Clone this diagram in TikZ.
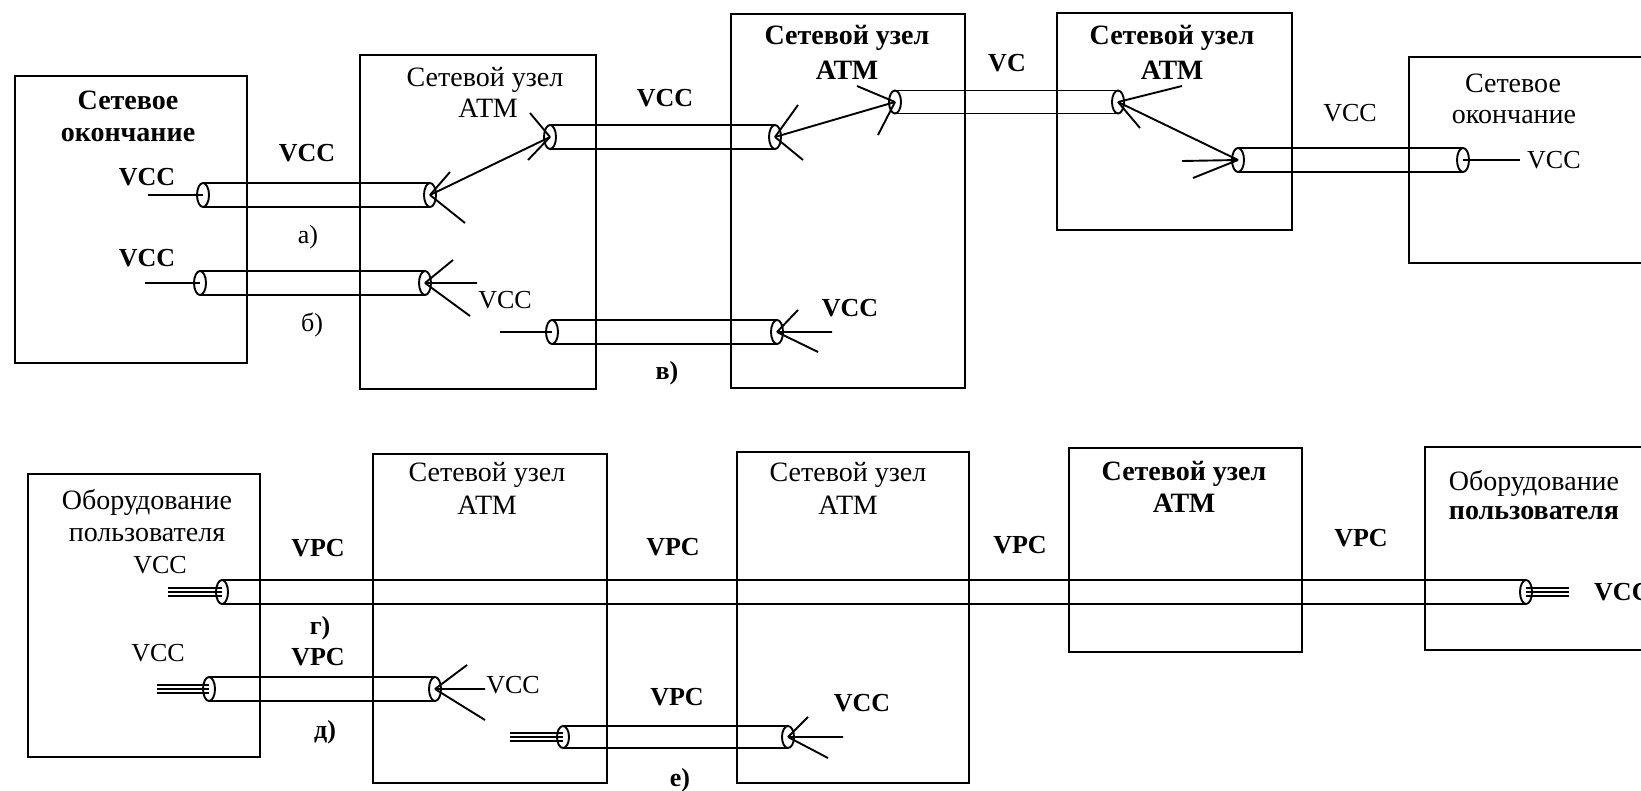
\documentclass[tikz,border=0pt]{standalone}
\usepackage{fontspec}
\setmainfont{Liberation Serif}
\tikzset{
 box/.style={draw, line width=2.1pt, inner sep=0pt, outer sep=0pt},
 wire/.style={line width=1.9pt},
 fine/.style={line width=1.3pt},
 lb/.style={font=\fontsize{26}{28}\selectfont\bfseries, inner sep=0pt},
 lr/.style={font=\fontsize{26}{28}\selectfont, inner sep=0pt},
 tb/.style={font=\fontsize{28}{30}\selectfont\bfseries, inner sep=0pt},
 tr/.style={font=\fontsize{28}{30}\selectfont, inner sep=0pt},
}
\newcommand\mybox[5]{\node[box, minimum width={(#4)-(#2)}, minimum height={(#5)-(#3)}] (#1) at ({((#2)+(#4))/2},{((#3)+(#5))/2}) {};}
\newcommand\cable[5]{%
 \coordinate (#1L) at (#2,#4);
 \coordinate (#1R) at (#3,#4);
 \draw[wire] (#2,#4-#5) -- (#3,#4-#5) (#2,#4+#5) -- (#3,#4+#5);
 \draw[wire] (#1L) ellipse [x radius=6, y radius=#5];
 \draw[wire] (#1R) ellipse [x radius=6, y radius=#5];
}
\newcommand\tri[2]{\foreach \d in {-4,0,4} {\draw[fine] ([yshift=\d pt]#1) -- ([yshift=\d pt]#2);}}
\begin{document}
\begin{tikzpicture}[x=1pt,y=-1pt]
\useasboundingbox (0,0) rectangle (1641,790);
\fill[white] (0,0) rectangle (1641,790);
\clip (0,0) rectangle (1641,790);
% boxes
\mybox{A}{15}{76}{247}{363}
\mybox{B}{360}{55}{596}{389}
\mybox{C}{731}{14}{965}{388}
\mybox{D}{1057}{13}{1292}{230}
\mybox{E}{1409}{57}{1680}{263}
\mybox{F}{28}{474}{260}{757}
\mybox{G}{373}{454}{607}{783}
\mybox{H}{737}{452}{969}{783}
\mybox{I}{1069}{448}{1302}{652}
\mybox{J}{1425}{447}{1680}{650}
% cables
\cable{a}{203}{430}{195}{12}
\cable{b}{200}{425}{283}{12}
\cable{p}{550}{775}{137}{12}
\cable{v}{552}{777}{332}{12}
\cable{q}{895}{1118}{102}{11.5}
\cable{e}{1238}{1463}{160}{12}
\cable{g}{222}{1526}{592}{12}
\cable{d}{209}{435}{689}{12}
\cable{f}{563}{788}{737}{11}
% stubs
\coordinate (sa) at (148,195);
\coordinate (sb) at (145,283);
\coordinate (sv) at (500,332);
\coordinate (se) at (1520,160);
\draw[wire] (sa) -- (aL);
\draw[wire] (sb) -- (bL);
\draw[wire] (sv) -- (vL);
\draw[wire] (eR) -- (se);
\coordinate (tg1) at (168,592);
\coordinate (tg2) at (1569,592);
\coordinate (td) at (157,689);
\coordinate (tf) at (510,737);
\tri{tg1}{gL}
\tri{gR}{tg2}
\tri{td}{dL}
\tri{tf}{fL}
% connectors between cables
\draw[wire] (aR) -- (pL);
\draw[wire] (pR) -- (qL);
\draw[wire] (qR) -- (eL);
% spokes
\draw[wire] (aR) -- (450,172) (aR) -- (465,223);
\draw[wire] (bR) -- (453,260) (bR) -- (477,283) (bR) -- (470,316);
\draw[wire] (pL) -- (530,113) (pL) -- (528,160);
\draw[wire] (pR) -- (798,105) (pR) -- (803,160);
\draw[wire] (vR) -- (798,310) (vR) -- (832,332) (vR) -- (818,352);
\draw[wire] (qL) -- (857,86) (qL) -- (878,135);
\draw[wire] (qR) -- (1182,86) (qR) -- (1140,128);
\draw[wire] (1182,161) -- (eL) (eL) -- (1193,178);
\draw[wire] (dR) -- (467,665) (dR) -- (485,689) (dR) -- (485,720);
\draw[wire] (fR) -- (808,717) (fR) -- (843,737) (fR) -- (828,758);
% titles
\node[tb] (tA1) at (128,100) {Сетевое};
\node[tb] (tA2) at (128,135) {окончание};
\node[tr] (tB1) at (485,80) {Сетевой узел};
\node[tr] (tB2) at (488,108) {АТМ};
\node[tb] (tC1) at (847,38) {Сетевой узел};
\node[tb] (tC2) at (847,70) {АТМ};
\node[tb] (tD1) at (1172,38) {Сетевой узел};
\node[tb] (tD2) at (1172,70) {АТМ};
\node[tr] (tE1) at (1513,83) {Сетевое};
\node[tr] (tE2) at (1514,117) {окончание};
\node[tr] (tF1) at (147,502) {Оборудование};
\node[tr] (tF2) at (147,535) {пользователя};
\node[tr] (tG1) at (487,475) {Сетевой узел};
\node[tr] (tG2) at (487,505) {АТМ};
\node[tr] (tH1) at (848,475) {Сетевой узел};
\node[tr] (tH2) at (848,505) {АТМ};
\node[tb] (tI1) at (1184,474) {Сетевой узел};
\node[tb] (tI2) at (1184,503) {АТМ};
\node[tr] (tJ1) at (1534,483) {Оборудование};
\node[tb] (tJ2) at (1534,513) {пользователя};
% labels top
\node[lb] (l1) at (147,177) {VCC};
\node[lb] (l2) at (307,153) {VCC};
\node[lr] (l3) at (308,237) {а)};
\node[lb] (l4) at (147,258) {VCC};
\node[lr] (l5) at (312,325) {б)};
\node[lr] (l6) at (505,300) {VCC};
\node[lb] (l7) at (665,98) {VCC};
\node[lb] (l8) at (1007,63) {VC};
\node[lr] (l9) at (1350,113) {VCC};
\node[lr, anchor=west] (l10) at (1527,160) {VCC};
\node[lb] (l11) at (667,373) {в)};
\node[lb] (l12) at (850,308) {VCC};
% labels bottom
\node[lr] (m1) at (160,565) {VCC};
\node[lb] (m2) at (318,548) {VPC};
\node[lb] (m3) at (320,628) {г)};
\node[lb] (m4) at (318,657) {VPC};
\node[lr] (m5) at (158,653) {VCC};
\node[lb] (m6) at (325,732) {д)};
\node[lr] (m7) at (513,685) {VCC};
\node[lb] (m8) at (673,547) {VPC};
\node[lb] (m9) at (677,697) {VPC};
\node[lb] (m10) at (862,703) {VCC};
\node[lb] (m11) at (680,780) {е)};
\node[lb] (m12) at (1020,545) {VPC};
\node[lb] (m13) at (1361,538) {VPC};
\node[lb, anchor=west] (m14) at (1594,592) {VCC};
\end{tikzpicture}
\end{document}
